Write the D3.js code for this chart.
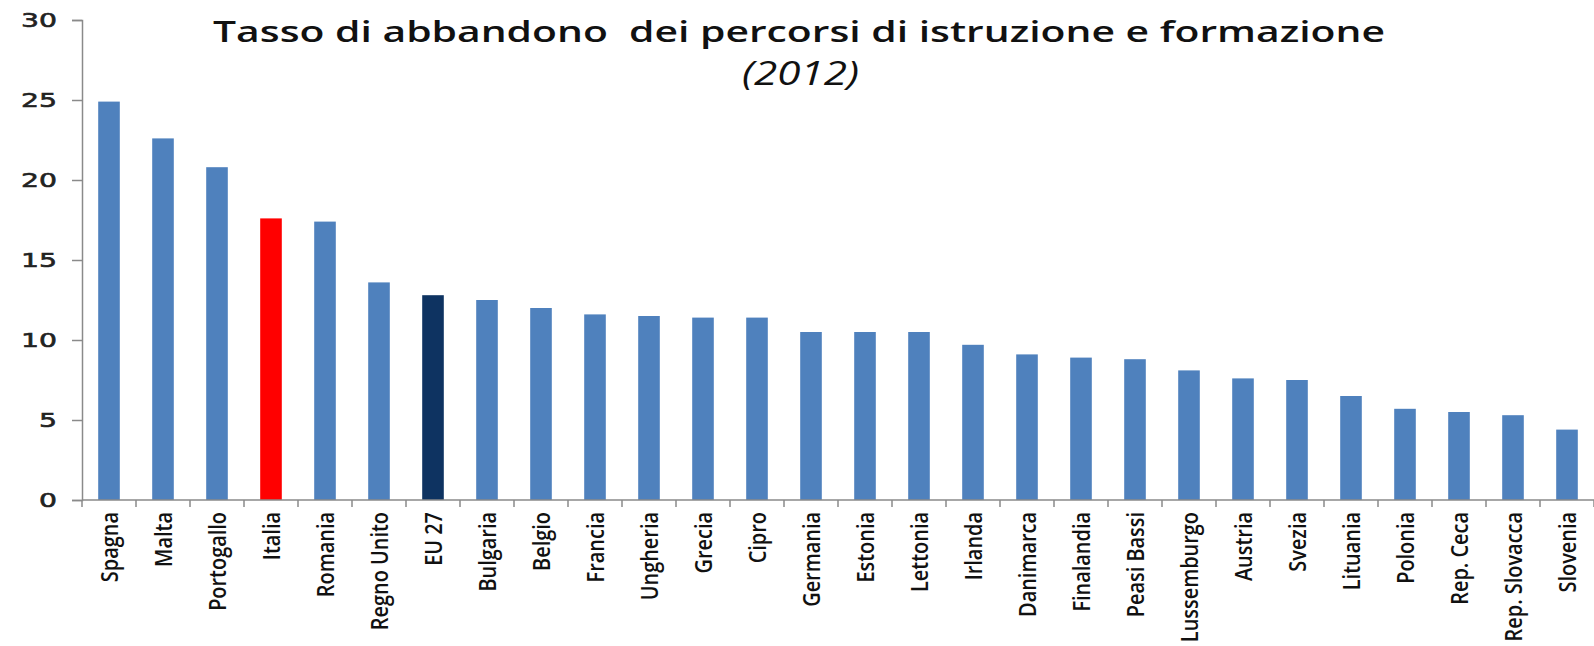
<!DOCTYPE html>
<html><head><meta charset="utf-8">
<script src="https://cdn.jsdelivr.net/npm/d3@7"></script>
<style>
html,body{margin:0;padding:0;background:#fff;}
svg{display:block;}
</style></head>
<body>
<svg id="chart" width="1594" height="646"></svg>
<script>
const categories = ["Spagna","Malta","Portogallo","Italia","Romania","Regno Unito","EU 27","Bulgaria","Belgio","Francia","Ungheria","Grecia","Cipro","Germania","Estonia","Lettonia","Irlanda","Danimarca","Finalandia","Peasi Bassi","Lussemburgo","Austria","Svezia","Lituania","Polonia","Rep. Ceca","Rep. Slovacca","Slovenia"];
const values = [24.9,22.6,20.8,17.6,17.4,13.6,12.8,12.5,12.0,11.6,11.5,11.4,11.4,10.5,10.5,10.5,9.7,9.1,8.9,8.8,8.1,7.6,7.5,6.5,5.7,5.5,5.3,4.4];
const yTicks = [0,5,10,15,20,25,30];
const titleText = "Tasso di abbandono  dei percorsi di istruzione e formazione";
const subtitleText = "(2012)";

const data = categories.map((c,i)=>({c, v: values[i]}));
const specialColor = {"Italia":"#FF0000","EU 27":"#0E3361"};
const baseColor = "#4F81BD";

const svg = d3.select("#chart");
const x = d3.scaleBand().domain(categories).range([82,1594]).paddingInner(0.6).paddingOuter(0.3);
const y = d3.scaleLinear().domain([0,30]).range([500,20]);

// bars
svg.append("g").selectAll("rect").data(data).join("rect")
  .attr("x", d=>x(d.c))
  .attr("width", x.bandwidth())
  .attr("y", d=>y(d.v))
  .attr("height", d=>y(0)-y(d.v))
  .attr("fill", d=>specialColor[d.c] || baseColor);

// y axis
const yAxis = svg.append("g").attr("transform","translate(82,0)")
  .call(d3.axisLeft(y).tickValues(yTicks).tickSize(10).tickPadding(0).tickFormat(d3.format("d")));
yAxis.selectAll("path,line").attr("stroke","#8a8a8a").attr("stroke-width",1.5);
yAxis.selectAll("text")
  .attr("font-family","'DejaVu Sans', Verdana, sans-serif")
  .attr("font-size",20)
  .attr("fill","#222")
  .attr("text-anchor","start")
  .attr("x", d=> -25 - String(d).length*18)
  .attr("textLength", d=>String(d).length*18)
  .attr("lengthAdjust","spacingAndGlyphs")
  .style("paint-order","stroke")
  .attr("stroke","#222").attr("stroke-width",0.6);

// x axis
const xAxis = svg.append("g").attr("transform",`translate(0,${y(0)})`)
  .call(d3.axisBottom(x).tickSize(0).tickPadding(0));
xAxis.select("path.domain").attr("d","M82,0H1594").attr("stroke","#8a8a8a").attr("stroke-width",1.5);
const sx = 0.83;
xAxis.selectAll("text")
  .attr("font-family","'Open Sans', sans-serif")
  .attr("font-size",24)
  .attr("font-weight",600)
  .attr("fill","#111")
  .attr("text-anchor","end")
  .attr("transform",`rotate(-90) scale(${sx},1)`)
  .attr("x", -12/sx)
  .attr("y", 1)
  .attr("dy","0.35em");

// boundary ticks on x axis
const bounds = categories.map(c => x(c) - x.step()*x.paddingInner()/2).concat([x.range()[1]]);
xAxis.append("g").selectAll("line").data(bounds).join("line")
  .attr("x1", d=>d).attr("x2", d=>d)
  .attr("y1", 0).attr("y2", 7)
  .attr("stroke","#8a8a8a").attr("stroke-width",1.5);

// title
svg.append("text")
  .attr("x", 213).attr("y", 42)
  .attr("font-family","'Open Sans', sans-serif")
  .attr("font-weight",600)
  .attr("font-size",28)
  .attr("fill","#111")
  .style("white-space","pre")
  .attr("textLength",1172)
  .attr("lengthAdjust","spacingAndGlyphs")
  .text(titleText);
svg.append("text")
  .attr("x", 742).attr("y", 85)
  .attr("font-family","'Open Sans', sans-serif")
  .attr("font-style","italic")
  .attr("font-size",32)
  .attr("fill","#111")
  .attr("textLength",117)
  .attr("lengthAdjust","spacingAndGlyphs")
  .text(subtitleText);
</script>
</body></html>
